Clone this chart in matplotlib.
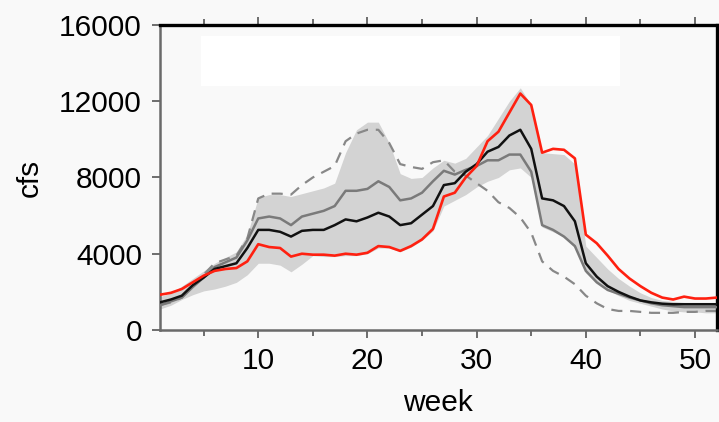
import matplotlib
matplotlib.use("Agg")
import matplotlib.pyplot as plt
from matplotlib.patches import Rectangle
from matplotlib.ticker import MultipleLocator

plt.rcParams['font.family'] = ['Liberation Sans', 'DejaVu Sans']

weeks = list(range(1, 53))

observed = [1850, 1950, 2150, 2500, 2850, 3100, 3200, 3250, 3600, 4500,
            4350, 4300, 3850, 4000, 3950, 3950, 3900, 4000, 3950, 4050,
            4400, 4350, 4150, 4400, 4750, 5300, 7000, 7200, 8000, 8600,
            9900, 10400, 11400, 12400, 11800, 9300, 9500, 9450, 9000, 5000,
            4550, 3900, 3200, 2700, 2300, 1950, 1700, 1600, 1750, 1650,
            1650, 1700]

median = [1450, 1600, 1800, 2350, 2750, 3200, 3350, 3500, 4300, 5250,
          5250, 5150, 4900, 5200, 5250, 5250, 5500, 5800, 5700, 5900,
          6150, 5950, 5500, 5600, 6050, 6500, 7600, 7700, 8300, 8700,
          9350, 9600, 10200, 10500, 9500, 6900, 6800, 6500, 5700, 3500,
          2800, 2300, 2000, 1750, 1550, 1450, 1380, 1350, 1350, 1350,
          1350, 1350]

mean = [1300, 1500, 1700, 2250, 2750, 3300, 3550, 3800, 4700, 5850,
        5950, 5850, 5500, 5950, 6100, 6250, 6500, 7300, 7300, 7400,
        7800, 7500, 6800, 6900, 7200, 7800, 8350, 8150, 8400, 8600,
        8900, 8900, 9200, 9200, 8300, 5500, 5250, 4900, 4400, 3100,
        2500, 2100, 1900, 1700, 1550, 1400, 1300, 1250, 1200, 1200,
        1200, 1200]

dashed = [1300, 1450, 1700, 2300, 2900, 3500, 3700, 3900, 4800, 6900,
          7150, 7150, 7100, 7600, 8000, 8300, 8600, 9900, 10300, 10500,
          10500, 9800, 8700, 8550, 8450, 8800, 8900, 8300, 8100, 7700,
          7300, 6700, 6400, 5900, 5100, 3600, 3100, 2800, 2400, 1800,
          1400, 1100, 1000, 1000, 950, 900, 900, 900, 950, 950,
          1000, 1000]

band_hi = [1750, 1950, 2300, 2700, 3100, 3500, 3800, 4100, 5000, 6950,
           7100, 7100, 7000, 7150, 7300, 7450, 7700, 9300, 10500, 10900,
           10900, 9800, 8200, 7950, 8000, 8500, 8900, 8750, 9000, 9600,
           10200, 11100, 12000, 12700, 11800, 9300, 9250, 9200, 8700, 4400,
           3800, 3200, 2700, 2300, 1950, 1700, 1550, 1500, 1450, 1450,
           1450, 1450]

band_lo = [1100, 1300, 1600, 1850, 2050, 2150, 2300, 2500, 2900, 3500,
           3500, 3400, 3050, 3450, 3900, 3850, 3850, 3900, 3900, 4000,
           4300, 4300, 4100, 4350, 4700, 5200, 6500, 6800, 7100, 7500,
           7800, 8000, 8400, 8500, 8000, 5400, 5150, 4900, 4300, 3000,
           2500, 2100, 1800, 1550, 1400, 1250, 1100, 1000, 950, 950,
           900, 900]

y_ticks = [0, 4000, 8000, 12000, 16000]
x_ticks = [10, 20, 30, 40, 50]

bg = '#f9f9f9'
fig = plt.figure(figsize=(7.19, 4.22), dpi=100, facecolor=bg)
ax = fig.add_axes([0.2225, 0.218, 0.7745, 0.723])
ax.set_facecolor(bg)

ax.add_patch(Rectangle((0.074, 0.80), 0.752, 0.162, transform=ax.transAxes,
                       facecolor='white', edgecolor='none', zorder=0))

ax.fill_between(weeks, band_lo, band_hi, color='#d3d3d3', linewidth=0, zorder=1)
ax.plot(weeks, dashed, color='#888888', linewidth=1.6, linestyle=(0, (5, 3.5)), zorder=2)
ax.plot(weeks, mean, color='#7a7a7a', linewidth=1.8, zorder=3)
ax.plot(weeks, median, color='#111111', linewidth=1.8, zorder=4)
ax.plot(weeks, observed, color='#ff2010', linewidth=1.9, zorder=5)

ax.set_xlim(1, 52)
ax.set_ylim(0, 16000)
ax.set_xticks(x_ticks)
ax.xaxis.set_minor_locator(MultipleLocator(5))
ax.set_yticks(y_ticks)

for s in ['top', 'right']:
    ax.spines[s].set_color('black')
    ax.spines[s].set_linewidth(2.4)
for s in ['left', 'bottom']:
    ax.spines[s].set_color('#6a6a6a')
    ax.spines[s].set_linewidth(1.8)

ax.tick_params(axis='x', which='both', direction='out', top=True, bottom=True,
               color='#555555', width=1.2, labelsize=21.5, pad=6)
ax.tick_params(axis='x', which='major', length=6)
ax.tick_params(axis='x', which='minor', length=4)
ax.tick_params(axis='y', which='major', direction='out', left=True, right=False,
               length=6, color='#555555', width=1.2, labelsize=21.5, pad=7)

ax.set_xlabel('week', fontsize=21.5, labelpad=10)
ax.set_ylabel('cfs', fontsize=21.5, labelpad=11)

fig.savefig('out.png', dpi=100, facecolor=bg)
